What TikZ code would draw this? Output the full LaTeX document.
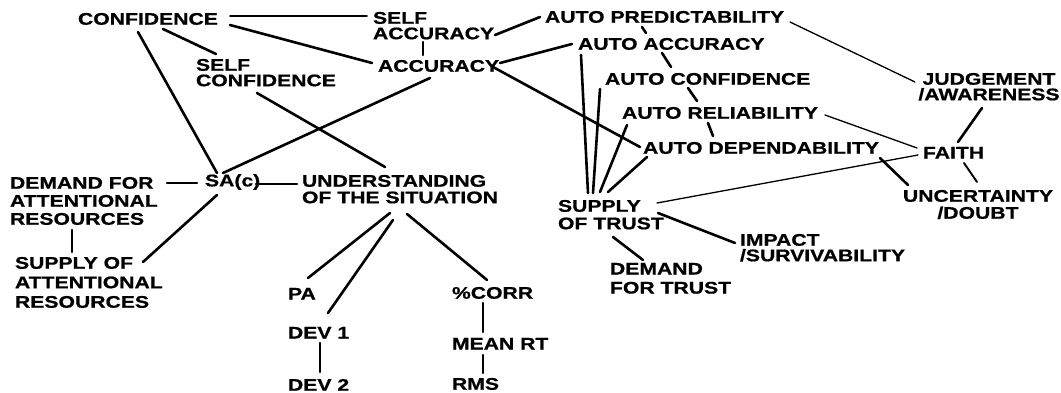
\documentclass[tikz,border=0pt]{standalone}
\usepackage{fontspec}
\newfontfamily\lblfont{Liberation Sans}[FakeStretch=1.26,FakeBold=0.8]
\usetikzlibrary{calc}
\tikzset{
  lab/.style={font={\lblfont\bfseries\fontsize{16.8}{#1}\selectfont}, inner sep=0pt, outer sep=0pt, anchor=north west, align=left},
  lab/.default=17,
  thick line/.style={line width=2.6pt, line cap=round},
  mid line/.style={line width=1.9pt, line cap=round},
  thin line/.style={line width=1.3pt, line cap=round},
}
\begin{document}
\begin{tikzpicture}[x=1pt,y=-1pt]
\useasboundingbox (0,0) rectangle (1061,393);
% nodes
\node[lab] (conf) at (78,13) {CONFIDENCE};
\node[lab=15.5] (sacc) at (373,12) {SELF\\ACCURACY};
\node[lab] (acc) at (378,60) {ACCURACY};
\node[lab=15.5] (sconf) at (196,59) {SELF\\CONFIDENCE};
\node[lab] (apred) at (545,11) {AUTO PREDICTABILITY};
\node[lab] (aacc) at (578,38) {AUTO ACCURACY};
\node[lab] (aconf) at (605,73) {AUTO CONFIDENCE};
\node[lab] (arel) at (622,107) {AUTO RELIABILITY};
\node[lab] (adep) at (643,142) {AUTO DEPENDABILITY};
\node[lab=15.5, anchor=north, align=center] (judge) at (989,73) {JUDGEMENT\\/AWARENESS};
\node[lab] (faith) at (923,147) {FAITH};
\node[lab=17, anchor=north, align=center] (uncert) at (978,190) {UNCERTAINTY\\/DOUBT};
\node[lab, anchor=west] (sa) at (205,182) {SA(c)};
\node[lab=18] (demand) at (10,177) {DEMAND FOR\\ATTENTIONAL\\RESOURCES};
\node[lab=19.5] (supatt) at (15,257) {SUPPLY OF\\ATTENTIONAL\\RESOURCES};
\node[lab=16.5] (und) at (302,175) {UNDERSTANDING\\OF THE SITUATION};
\node[lab=17.5] (supt) at (558,200) {SUPPLY\\OF TRUST};
\node[lab=15.5] (impact) at (740,234) {IMPACT\\/SURVIVABILITY};
\node[lab=19] (dtrust) at (610,263) {DEMAND\\FOR TRUST};
\node[lab] (pa) at (288,288) {PA};
\node[lab] (dev1) at (288,327) {DEV 1};
\node[lab] (dev2) at (288,379) {DEV 2};
\node[lab] (corr) at (452,287) {\%CORR};
\node[lab] (meanrt) at (452,338) {MEAN RT};
\node[lab] (rms) at (452,378) {RMS};
% connectors
\draw[mid line] ([shift={(152,3)}]conf.north west) -- ([shift={(-6,4)}]sacc.north west);
\draw[thick line] ([shift={(152,12)}]conf.north west) -- ([shift={(-6,3)}]acc.north west);
\draw[thick line] ([shift={(85,16)}]conf.north west) -- ([shift={(20,-5)}]sconf.north west);
\draw[thick line] ([shift={(60,19)}]conf.north west) -- ([shift={(12,-9)}]sa.west);
\draw[thick line] ([shift={(50,30)}]sacc.north west) -- ([shift={(45,-5)}]acc.north west);
\draw[thick line] ([shift={(122,23)}]sacc.north west) -- ([shift={(-5,6)}]apred.north west);
\draw[thick line] ([shift={(122,3)}]acc.north west) -- ([shift={(-6,6)}]aacc.north west);
\draw[thick line] ([shift={(115,7)}]acc.north west) -- ([shift={(-3,5)}]adep.north west);
\draw[thick line] ([shift={(52,18)}]acc.north west) -- ([shift={(18,-9)}]sa.west);
\draw[thick line] ([shift={(61,34)}]sconf.north west) -- ([shift={(83,-8)}]und.north west);
\draw[thick line] ([shift={(157,6)}]demand.north west) -- ([shift={(-8,1)}]sa.west);
\draw[thick line] ([shift={(51,2)}]sa.west) -- ([shift={(-5,9)}]und.north west);
\draw[thick line] ([shift={(12,13)}]sa.west) -- ([shift={(128,5)}]supatt.north west);
\draw[thick line] ([shift={(62,53)}]demand.north west) -- ([shift={(57,-5)}]supatt.north west);
\draw[thick line] ([shift={(88,38)}]und.north west) -- ([shift={(20,-10)}]pa.north west);
\draw[thick line] ([shift={(91,45)}]und.north west) -- ([shift={(40,-14)}]dev1.north west);
\draw[thick line] ([shift={(105,39)}]und.north west) -- ([shift={(35,-7)}]corr.north west);
\draw[thick line] ([shift={(31,16)}]corr.north west) -- ([shift={(31,-6)}]meanrt.north west);
\draw[thick line] ([shift={(31,17)}]meanrt.north west) -- ([shift={(31,-5)}]rms.north west);
\draw[thick line] ([shift={(32,16)}]dev1.north west) -- ([shift={(32,-7)}]dev2.north west);
\draw[thick line] ([shift={(97,16)}]apred.north west) -- ([shift={(68,-5)}]aacc.north west);
\draw[thick line] ([shift={(84,15)}]aacc.north west) -- ([shift={(66,-6)}]aconf.north west);
\draw[thick line] ([shift={(83,15)}]aconf.north west) -- ([shift={(75,-6)}]arel.north west);
\draw[thick line] ([shift={(86,16)}]arel.north west) -- ([shift={(70,-6)}]adep.north west);
\draw[thick line] ([shift={(30,-7)}]supt.north west) -- ([shift={(3,17)}]aacc.north west);
\draw[thick line] ([shift={(35,-7)}]supt.north west) -- ([shift={(-5,16)}]aconf.north west);
\draw[thick line] ([shift={(42,-8)}]supt.north west) -- ([shift={(5,18)}]arel.north west);
\draw[thick line] ([shift={(50,-8)}]supt.north west) -- ([shift={(4,15)}]adep.north west);
\draw[thin line] ([shift={(99,3)}]supt.north west) -- ([shift={(-5,8)}]faith.north west);
\draw[thick line] ([shift={(100,13)}]supt.north west) -- ([shift={(-5,9)}]impact.north west);
\draw[thick line] ([shift={(55,37)}]supt.north west) -- ([shift={(33,-3)}]dtrust.north west);
\draw[thin line] ([shift={(245,11)}]apred.north west) -- ([shift={(-74,9)}]judge.north);
\draw[thin line] ([shift={(203,8)}]arel.north west) -- ([shift={(-6,1)}]faith.north west);
\draw[thick line] ([shift={(-7,35)}]judge.north) -- ([shift={(35,-5)}]faith.north west);
\draw[thick line] ([shift={(237,16)}]adep.north west) -- ([shift={(-70,-5)}]uncert.north);
\draw[mid line] ([shift={(41,16)}]faith.north west) -- ([shift={(-1,-8)}]uncert.north);
\end{tikzpicture}
\end{document}
